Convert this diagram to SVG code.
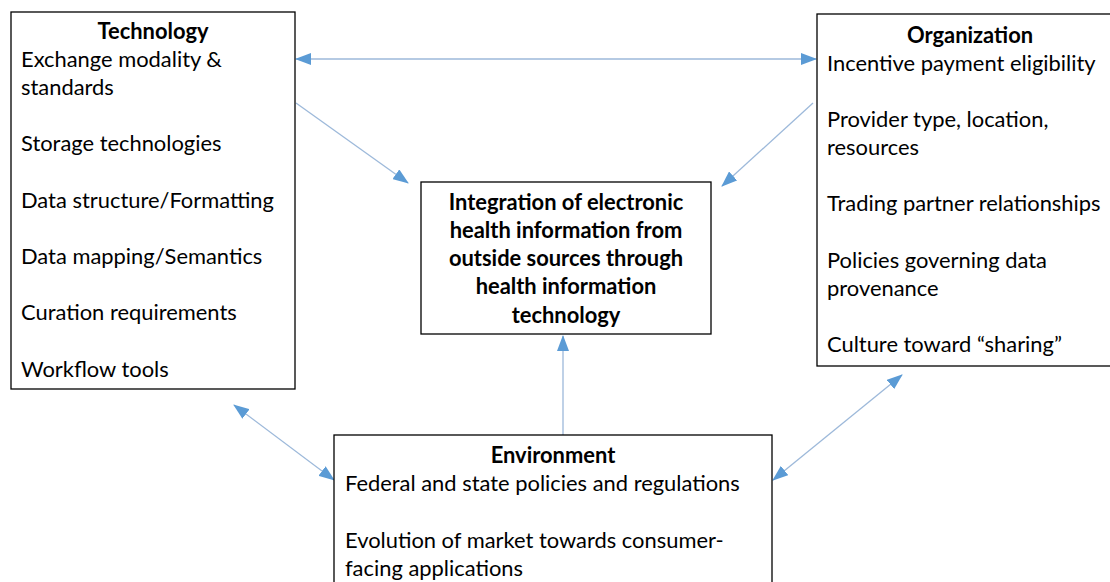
<svg xmlns="http://www.w3.org/2000/svg" width="1110" height="582" viewBox="0 0 1110 582">
<defs>
<marker id="ah" viewBox="0 0 16 12" refX="15" refY="6" markerWidth="16" markerHeight="12" markerUnits="userSpaceOnUse" orient="auto-start-reverse">
<path d="M0,0 L16,6 L0,12 Z" fill="#5B9BD5"/>
</marker>
<style>
.box{fill:#fff;stroke:#000;stroke-width:1.3}
.t{font-family:Lato,"Open Sans","Liberation Sans",sans-serif;font-size:21.9px;fill:#000}
.b{font-weight:bold}
.c{stroke:#9DB9DA;stroke-width:1.3;fill:none}
</style>
</defs>
<rect width="1110" height="582" fill="#fff"/>
<g id="connectors">
<line class="c" x1="296" y1="59" x2="816" y2="59" marker-start="url(#ah)" marker-end="url(#ah)"/>
<line class="c" x1="296" y1="103" x2="408" y2="183" marker-end="url(#ah)"/>
<line class="c" x1="813" y1="103" x2="722" y2="186" marker-end="url(#ah)"/>
<line class="c" x1="563" y1="435" x2="563" y2="336" marker-end="url(#ah)"/>
<line class="c" x1="234" y1="405" x2="334" y2="480" marker-start="url(#ah)" marker-end="url(#ah)"/>
<line class="c" x1="902" y1="375" x2="773" y2="480" marker-start="url(#ah)" marker-end="url(#ah)"/>
</g>
<g id="technology">
<rect class="box" x="11" y="12" width="284" height="377"/>
<text class="t b" x="153" y="39" text-anchor="middle">Technology</text>
<text class="t" x="21" y="67">Exchange modality &amp;</text>
<text class="t" x="21" y="95">standards</text>
<text class="t" x="21" y="151">Storage technologies</text>
<text class="t" x="21" y="208">Data structure/Formatting</text>
<text class="t" x="21" y="264">Data mapping/Semantics</text>
<text class="t" x="21" y="320">Curation requirements</text>
<text class="t" x="21" y="377">Workflow tools</text>
</g>
<g id="organization">
<rect class="box" x="817" y="14" width="300" height="352"/>
<text class="t b" x="970" y="43" text-anchor="middle">Organization</text>
<text class="t" x="827" y="71">Incentive payment eligibility</text>
<text class="t" x="827" y="127">Provider type, location,</text>
<text class="t" x="827" y="155">resources</text>
<text class="t" x="827" y="211">Trading partner relationships</text>
<text class="t" x="827" y="268">Policies governing data</text>
<text class="t" x="827" y="296">provenance</text>
<text class="t" x="827" y="352">Culture toward “sharing”</text>
</g>
<g id="integration">
<rect class="box" x="421" y="182" width="290" height="152"/>
<text class="t b" x="566" y="210" text-anchor="middle">Integration of electronic</text>
<text class="t b" x="566" y="238" text-anchor="middle">health information from</text>
<text class="t b" x="566" y="266" text-anchor="middle">outside sources through</text>
<text class="t b" x="566" y="294" text-anchor="middle">health information</text>
<text class="t b" x="566" y="323" text-anchor="middle">technology</text>
</g>
<g id="environment">
<rect class="box" x="334" y="435" width="438" height="160"/>
<text class="t b" x="553" y="463" text-anchor="middle">Environment</text>
<text class="t" x="345" y="491">Federal and state policies and regulations</text>
<text class="t" x="345" y="548">Evolution of market towards consumer-</text>
<text class="t" x="345" y="576">facing applications</text>
</g>
</svg>
